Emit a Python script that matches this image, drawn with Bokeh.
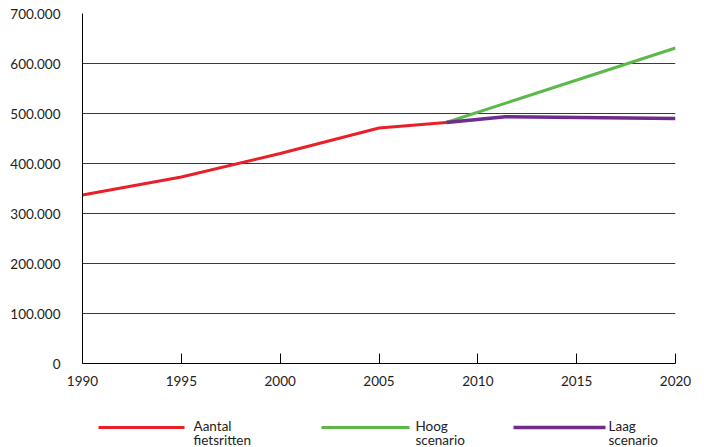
from bokeh.plotting import figure
from bokeh.layouts import column
from bokeh.models import FixedTicker
from bokeh.core.properties import value
from bokeh.embed import file_html
from bokeh.resources import INLINE

# Observed bicycle trips and the two projection scenarios
jaren_obs = [1990, 1995, 2000, 2005, 2008.4]
fietsritten = [337000, 373000, 420000, 471000, 482000]

jaren_hoog = [2008.4, 2020]
hoog_scenario = [482000, 631000]

jaren_laag = [2008.4, 2011.4, 2020]
laag_scenario = [482000, 493500, 490000]

x_ticks = [1990, 1995, 2000, 2005, 2010, 2015, 2020]
y_ticks = [0, 100000, 200000, 300000, 400000, 500000, 600000, 700000]
y_labels = ["0", "100.000", "200.000", "300.000", "400.000", "500.000", "600.000", "700.000"]

legend_line1 = ["Aantal", "Hoog", "Laag"]
legend_line2 = ["fietsritten", "scenario", "scenario"]
series_colors = ["#e8202a", "#5cb848", "#702b8c"]
series_widths = [3, 3, 3.5]

FONT = "Lato"
TEXT = "#222222"

# frame edges in page pixels
LEFT, RIGHT = 82, 675
CHART_H, STRIP_H = 395, 52

p = figure(width=704, height=CHART_H, output_backend="svg", toolbar_location=None,
           x_range=(1990, 2020), y_range=(0, 700000),
           min_border_left=LEFT, min_border_right=704 - RIGHT, min_border_top=13,
           min_border_bottom=CHART_H - 363)
p.outline_line_color = None

# grid: horizontal lines only
p.xgrid.grid_line_color = None
p.ygrid.grid_line_color = "#3a3a3a"
p.ygrid.grid_line_width = 1
p.ygrid.ticker = FixedTicker(ticks=y_ticks)

# y axis
p.yaxis.ticker = FixedTicker(ticks=y_ticks)
p.yaxis.major_label_overrides = {t: s for t, s in zip(y_ticks, y_labels)}
p.yaxis.axis_line_color = "black"
p.yaxis.major_tick_line_color = None
p.yaxis.minor_tick_line_color = None
p.yaxis.major_label_standoff = 16
p.yaxis.major_label_text_font = FONT
p.yaxis.major_label_text_font_size = "13.5px"
p.yaxis.major_label_text_color = TEXT

# x axis with ticks pointing into the plot
p.xaxis.ticker = FixedTicker(ticks=x_ticks)
p.xaxis.axis_line_color = "black"
p.xaxis.major_tick_in = 10
p.xaxis.major_tick_out = 0
p.xaxis.major_tick_line_color = "black"
p.xaxis.minor_tick_line_color = None
p.xaxis.major_label_standoff = 12
p.xaxis.major_label_text_font = FONT
p.xaxis.major_label_text_font_size = "13.5px"
p.xaxis.major_label_text_color = TEXT

p.line(jaren_hoog, hoog_scenario, line_color=series_colors[1], line_width=series_widths[1])
p.line(jaren_laag, laag_scenario, line_color=series_colors[2], line_width=series_widths[2])
p.line(jaren_obs, fietsritten, line_color=series_colors[0], line_width=series_widths[0])

# legend strip underneath the chart; its frame is aligned with the chart's,
# so the x range is set to page pixels (y runs downwards)
leg = figure(width=704, height=STRIP_H, output_backend="svg", toolbar_location=None,
             x_range=(LEFT, RIGHT), y_range=(STRIP_H, 0), x_axis_location=None, y_axis_location=None,
             min_border_left=LEFT, min_border_right=704 - RIGHT, min_border_top=0, min_border_bottom=0)
leg.outline_line_color = None
leg.grid.grid_line_color = None

swatch_x0 = [98, 321, 513]
swatch_x1 = [184, 409, 605]
label_x = [193, 415, 608]
swatch_y = 32
leg.segment(x0=swatch_x0, y0=[swatch_y] * 3, x1=swatch_x1, y1=[swatch_y] * 3,
            line_color=series_colors, line_width=series_widths)
leg.text(x=label_x, y=[30] * 3, text=legend_line1, text_font=value(FONT),
         text_font_size="13.5px", text_color=TEXT, text_baseline="alphabetic", text_align="left")
leg.text(x=label_x, y=[44] * 3, text=legend_line2, text_font=value(FONT),
         text_font_size="13.5px", text_color=TEXT, text_baseline="alphabetic", text_align="left")

open("out.html", "w").write(file_html(column(p, leg, spacing=0), INLINE))
